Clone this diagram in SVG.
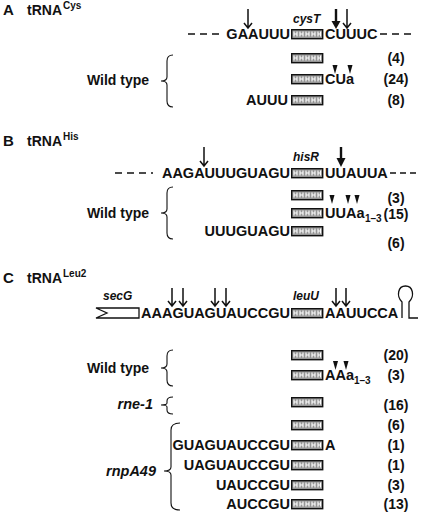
<svg xmlns="http://www.w3.org/2000/svg" width="422" height="514" viewBox="0 0 422 514">
<style>
text{font-family:"Liberation Sans",Arial,Helvetica,sans-serif;font-weight:bold;fill:#111}
.hd{font-size:15px}
.tr{font-size:14px}
.sup{font-size:10px}
.seq{font-size:14.5px}
.lab{font-size:14px}
.gene{font-size:12px;font-style:italic}
.it{font-size:14.5px;font-style:italic}
.cnt{font-size:14px;text-anchor:middle}
.sub{font-size:10px}
.end{text-anchor:end}
.dash{stroke:#111;stroke-width:1.6;stroke-dasharray:7,5;fill:none}
.dash2{stroke:#111;stroke-width:1.6;stroke-dasharray:6,4;fill:none}
.brace{stroke:#111;stroke-width:1.1;fill:none}
.thin{stroke:#111;stroke-width:1.5;fill:none}
.bold{stroke:#111;stroke-width:2.4;fill:none}
.head{fill:#111}
.line{stroke:#111;stroke-width:1.3;fill:none}
</style>
<defs>
<g id="trna">
<rect x="0.7" y="0.7" width="31" height="9" fill="#959595" stroke="#111" stroke-width="1.4"/>
<path d="M3,2.5V7.5M6,2.5V7.5M3,5H6M9,2.5V7.5M12,2.5V7.5M9,5H12M15,2.5V7.5M18,2.5V7.5M15,5H18M21,2.5V7.5M24,2.5V7.5M21,5H24M27,2.5V7.5M29.5,2.5V7.5M27,5H29.5" stroke="#fff" stroke-width="1.1" fill="none"/>
</g>
</defs>

<g id="panelA">
<text class="hd" x="3" y="15">A</text>
<text class="tr" x="27" y="15">tRNA</text><text class="sup" x="63" y="9">Cys</text>
</g>
<g id="A-gene">
<text class="gene" x="293" y="23">cysT</text>
<path class="dash" d="M188,34H223M380,34H414"/>
<text class="seq end" x="290" y="39">GAAUUU</text>
<use href="#trna" x="291" y="29"/>
<text class="seq" x="325" y="39">CUUUC</text>
</g>
<g id="A-arrows">
<path class="thin" d="M248,9V28M244,23L248,28L252,23"/>
<path class="bold" d="M336,9V23"/><polygon class="head" points="331.5,21 340.5,21 336,29"/>
<path class="thin" d="M347,9V28M343,23L347,28L351,23"/>
</g>
<g id="A-rows">
<use href="#trna" x="291" y="53"/>
<text class="cnt" x="396" y="63">(4)</text>
<use href="#trna" x="291" y="74"/>
<text class="seq" x="325" y="84">CUa</text>
<polygon class="head" points="332.5,65 337.5,65 335,74"/>
<polygon class="head" points="347.5,65 352.5,65 350,74"/>
<text class="cnt" x="396" y="84">(24)</text>
<text class="seq end" x="288" y="105">AUUU</text>
<use href="#trna" x="291" y="95"/>
<text class="cnt" x="396" y="105">(8)</text>
<text class="lab" x="87" y="85">Wild type</text>
<path class="brace" d="M173,55Q167,55 167,61V77Q167,81 161,81Q167,81 167,85V101Q167,107 173,107"/>
</g>

<g id="panelB">
<text class="hd" x="3" y="146">B</text>
<text class="tr" x="27" y="146">tRNA</text><text class="sup" x="63" y="140">His</text>
</g>
<g id="B-gene">
<text class="gene" x="293" y="161">hisR</text>
<path class="dash" d="M115,173H153"/>
<path class="dash2" d="M390,173H416"/>
<text class="seq end" x="290" y="178">AAGAUUUGUAGU</text>
<use href="#trna" x="291" y="168"/>
<text class="seq" x="325" y="178">UUAUUA</text>
</g>
<g id="B-arrows">
<path class="thin" d="M204,147V166M200,161L204,166L208,161"/>
<path class="bold" d="M341,147V160"/><polygon class="head" points="336.5,158 345.5,158 341,167"/>
</g>
<g id="B-rows">
<use href="#trna" x="291" y="190"/>
<text class="cnt" x="396" y="203">(3)</text>
<use href="#trna" x="291" y="208"/>
<text class="seq" x="325" y="218">UUAa</text><text class="sub" x="365" y="222">1–3</text>
<polygon class="head" points="329.5,195 334.5,195 332,204"/>
<polygon class="head" points="345.5,195 350.5,195 348,204"/>
<polygon class="head" points="354.5,195 359.5,195 357,204"/>
<text class="cnt" x="396" y="219">(15)</text>
<text class="seq end" x="290" y="236">UUUGUAGU</text>
<use href="#trna" x="291" y="226"/>
<text class="cnt" x="396" y="248">(6)</text>
<text class="lab" x="87" y="218">Wild type</text>
<path class="brace" d="M173,187Q167,187 167,193V209Q167,213 161,213Q167,213 167,217V233Q167,239 173,239"/>
</g>

<g id="panelC">
<text class="hd" x="3" y="283">C</text>
<text class="tr" x="27" y="283">tRNA</text><text class="sup" x="63" y="277">Leu2</text>
</g>
<g id="C-gene">
<text class="gene" x="103" y="300">secG</text>
<polygon class="line" points="96,308 139,308 139,318 96,318 107,313"/>
<text class="gene" x="293" y="300">leuU</text>
<text class="seq end" x="290" y="318">AAAGUAGUAUCCGU</text>
<use href="#trna" x="291" y="308"/>
<text class="seq" x="325" y="318">AAUUCCA</text>
<path class="line" d="M402,318V302C396,296 398,286 405.5,286C413,286 415,296 409,302V318H418"/>
</g>
<g id="C-arrows">
<path class="thin" d="M172,288V306M168,301L172,306L176,301"/>
<path class="thin" d="M183,288V306M179,301L183,306L187,301"/>
<path class="thin" d="M215,288V306M211,301L215,306L219,301"/>
<path class="thin" d="M226,288V306M222,301L226,306L230,301"/>
<path class="thin" d="M336,288V306M332,301L336,306L340,301"/>
<path class="thin" d="M346,288V306M342,301L346,306L350,301"/>
</g>
<g id="C-wt">
<use href="#trna" x="291" y="350"/>
<text class="cnt" x="396" y="360">(20)</text>
<use href="#trna" x="291" y="370"/>
<text class="seq" x="325" y="380">AAa</text><text class="sub" x="354" y="384">1–3</text>
<polygon class="head" points="333,361 338,361 335.5,370"/>
<polygon class="head" points="343.5,361 348.5,361 346,370"/>
<text class="cnt" x="396" y="380">(3)</text>
<text class="lab" x="87" y="373">Wild type</text>
<path class="brace" d="M173,350Q167,350 167,356V364Q167,368 161,368Q167,368 167,372V380Q167,386 173,386"/>
</g>
<g id="C-rne">
<text class="it end" x="153" y="409">rne-1</text>
<path class="brace" d="M173,397Q167,397 167,401V403Q167,405 161,405Q167,405 167,407V410Q167,414 173,414"/>
<use href="#trna" x="291" y="397"/>
<text class="cnt" x="396" y="410">(16)</text>
</g>
<g id="C-rnp">
<text class="it end" x="156" y="476">rnpA49</text>
<path class="brace" d="M180,423Q171,423 171,430V467Q171,471 164,471Q171,471 171,475V503Q171,510 180,510"/>
<use href="#trna" x="291" y="420"/>
<text class="cnt" x="396" y="430">(6)</text>
<text class="seq end" x="290" y="450">GUAGUAUCCGU</text>
<use href="#trna" x="291" y="440"/>
<text class="seq" x="325" y="450">A</text>
<text class="cnt" x="396" y="450">(1)</text>
<text class="seq end" x="290" y="470">UAGUAUCCGU</text>
<use href="#trna" x="291" y="460"/>
<text class="cnt" x="396" y="470">(1)</text>
<text class="seq end" x="290" y="490">UAUCCGU</text>
<use href="#trna" x="291" y="480"/>
<text class="cnt" x="396" y="490">(3)</text>
<text class="seq end" x="290" y="509">AUCCGU</text>
<use href="#trna" x="291" y="499"/>
<text class="cnt" x="396" y="509">(13)</text>
</g>
</svg>
